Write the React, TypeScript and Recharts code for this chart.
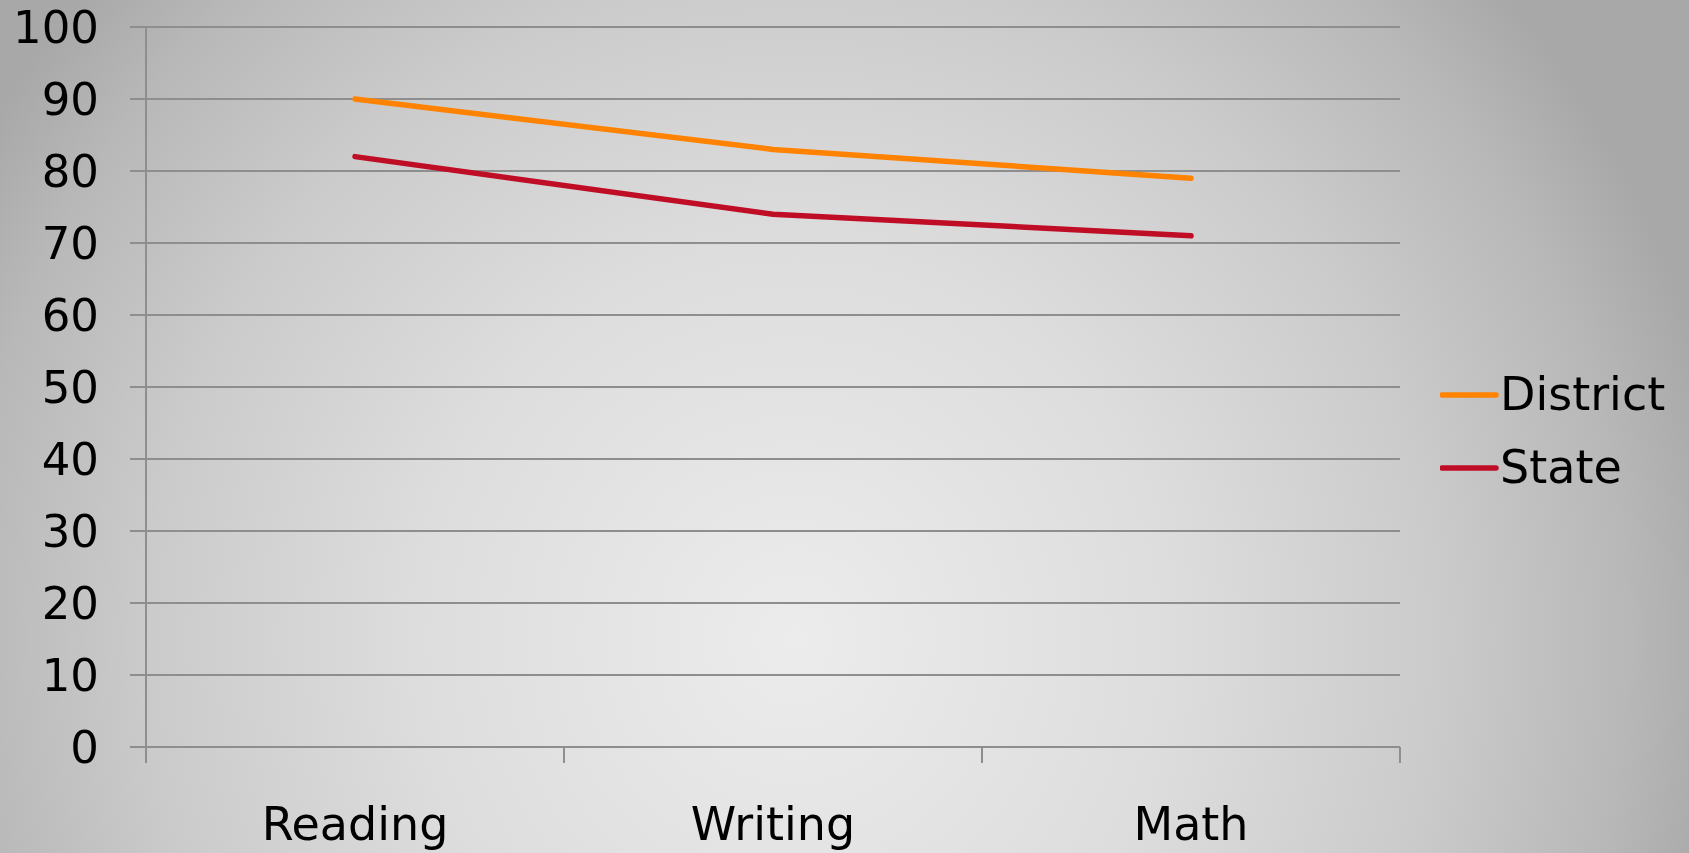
import { LineChart, Line, XAxis, YAxis, CartesianGrid } from 'recharts'

const subjects = ['Reading', 'Writing', 'Math']
const district = [90, 83, 79]
const state = [82, 74, 71]
const yTicks = [0, 10, 20, 30, 40, 50, 60, 70, 80, 90, 100]
const bandEdges = [0, 1, 2, 3]

const series = [
  { key: 'district', name: 'District', color: '#ff8200' },
  { key: 'state', name: 'State', color: '#c00d26' },
]

const data = subjects.map((s, i) => ({ subject: s, band: i + 0.5, district: district[i], state: state[i] }))

const font = '"DejaVu Sans", sans-serif'
const gridColor = '#8e8e8e'

export default function App() {
  return (
    <div
      style={{
        position: 'fixed',
        left: 0,
        top: 0,
        width: 1689,
        height: 853,
        background:
          'radial-gradient(ellipse 56% 115% at 47% 75%, #ececec 0%, #dddddd 40%, #cbcbcb 68%, #b8b8b8 88%, #a8a8a8 100%)',
        fontFamily: font,
      }}
    >
      <LineChart width={1689} height={853} data={data} margin={{ top: 27, right: 289, bottom: 0, left: 0 }}>
        <CartesianGrid vertical={false} xAxisId={0} stroke={gridColor} strokeWidth={2} />
        {/* band boundary ticks, like the original's category axis */}
        <XAxis
          xAxisId={0}
          dataKey="band"
          type="number"
          domain={[0, 3]}
          ticks={bandEdges}
          tickFormatter={() => ''}
          tickSize={16}
          height={1}
          stroke={gridColor}
          strokeWidth={2}
        />
        <XAxis
          xAxisId={1}
          dataKey="subject"
          padding={{ left: 209, right: 209 }}
          axisLine={false}
          tickLine={false}
          tickSize={0}
          tickMargin={59}
          height={105}
          tick={{ fill: '#000', fontSize: 46, fontFamily: font }}
        />
        <YAxis
          domain={[0, 100]}
          ticks={yTicks}
          width={146}
          tickSize={16}
          tickMargin={31}
          stroke={gridColor}
          strokeWidth={2}
          tick={{ fill: '#000', fontSize: 45, fontFamily: font }}
        />
        {series.map((s) => (
          <Line
            key={s.key}
            xAxisId={1}
            dataKey={s.key}
            name={s.name}
            stroke={s.color}
            strokeWidth={5.5}
            dot={false}
            activeDot={false}
            strokeLinecap="round"
            isAnimationActive={false}
          />
        ))}
      </LineChart>
      <div style={{ position: 'absolute', left: 1440, top: 358 }}>
        {series.map((s) => (
          <div key={s.key} style={{ display: 'flex', alignItems: 'center', height: 73 }}>
            <svg width={60} height={10}>
              <line x1={2} y1={5} x2={56} y2={5} stroke={s.color} strokeWidth={5.5} strokeLinecap="round" />
            </svg>
            <span style={{ fontSize: 46, color: '#000', lineHeight: '73px' }}>{s.name}</span>
          </div>
        ))}
      </div>
    </div>
  )
}
